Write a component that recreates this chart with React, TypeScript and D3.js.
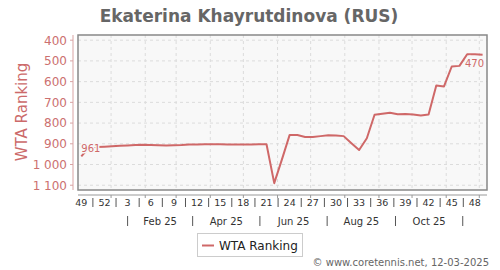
import React from "react";
import * as d3 from "d3";

const title = "Ekaterina Khayrutdinova (RUS)";
const seriesName = "WTA Ranking";
const firstWeekDate = Date.UTC(2024, 11, 5); // Thursday of ISO week 49, 2024
const rankings = [
  961, 918, 916, 914, 912, 910, 908, 906, 905, 906, 907, 908, 907, 906, 904, 903,
  902, 902, 902, 903, 903, 904, 903, 902, 902, 1090, 975, 857, 858, 867, 867, 863,
  859, 860, 863, 897, 930, 873, 760, 755, 750, 757, 756, 759, 763, 759, 619, 623,
  527, 524, 468, 468, 470,
];
const weekLabels = ["49", "52", "3", "6", "9", "12", "15", "18", "21", "24", "27", "30", "33", "36", "39", "42", "45", "48"];
const monthLabels = ["Feb 25", "Apr 25", "Jun 25", "Aug 25", "Oct 25"];
const yTicks = [400, 500, 600, 700, 800, 900, 1000, 1100];
const copyright = "© www.coretennis.net, 12-03-2025";

const W = 500, H = 270;
const left = 78, right = 487, top = 35, bottom = 190;
const lineColor = "#cf6868";
const font = "DejaVu Sans, sans-serif";

const DAY = 86400000;
const fmt = d3.formatLocale({ decimal: ".", thousands: " ", grouping: [3], currency: ["", ""] }).format(",d");

export default function App() {
  const x = d3.scaleUtc().domain([new Date(Date.UTC(2024, 11, 2)), new Date(Date.UTC(2025, 11, 8))]).range([left, right]);
  const y = d3.scaleLinear().domain([375, 1123]).range([top, bottom]);
  const pts = rankings.map((v, i) => ({ d: new Date(firstWeekDate + i * 7 * DAY), v }));
  const line = d3.line<{ d: Date; v: number }>().x(p => x(p.d)).y(p => y(p.v));
  const monthStarts = d3.utcMonth.range(new Date(Date.UTC(2024, 11, 15)), new Date(Date.UTC(2025, 11, 8)));
  const weekPos = weekLabels.map((_, k) => x(new Date(firstWeekDate + k * 21 * DAY)));
  const sepMonths = [0, 2, 4, 6, 8, 10].map(m => x(new Date(Date.UTC(2025, m, 16))));
  const first = pts[0], last = pts[pts.length - 1];
  const axisY = 195;

  return (
    <svg width={W} height={H} style={{ position: "absolute", left: 0, top: 0, background: "#fff" }} fontFamily={font}>
      <text x={249} y={22} textAnchor="middle" fontSize={17} fontWeight="bold" fill="#666">{title}</text>
      <rect x={left} y={top} width={right - left} height={bottom - top} fill="#f8f8f8" />
      {yTicks.map(t => (
        <line key={"gy" + t} x1={left} x2={right} y1={y(t)} y2={y(t)} stroke="#dcdcdc" strokeDasharray="3,3" />
      ))}
      {monthStarts.map(m => (
        <line key={"gx" + m.getTime()} x1={x(m)} x2={x(m)} y1={top} y2={bottom} stroke="#dcdcdc" strokeDasharray="3,3" />
      ))}
      <path d={line(pts) || ""} fill="none" stroke={lineColor} strokeWidth={2} strokeLinejoin="round" />
      <text x={x(first.d)} y={y(first.v) - 4.5} fontSize={10} fill={lineColor} stroke="#f8f8f8" strokeWidth={3} paintOrder="stroke">{fmt(first.v)}</text>
      <text x={x(last.d) + 1.5} y={y(last.v) + 12.5} textAnchor="end" fontSize={10} fill={lineColor} stroke="#f8f8f8" strokeWidth={3} paintOrder="stroke">{fmt(last.v)}</text>
      <rect x={left} y={top} width={right - left} height={bottom - top} fill="none" stroke="#888" strokeWidth={1.5} />
      {/* y axis */}
      <line x1={73} x2={73} y1={top} y2={bottom} stroke="#d9a3a3" />
      {yTicks.map(t => (
        <g key={"yt" + t}>
          <line x1={70} x2={73} y1={y(t)} y2={y(t)} stroke="#d9a3a3" />
          <text x={67} y={y(t)} dy="0.36em" textAnchor="end" fontSize={12} fill="#cc7070">{fmt(t)}</text>
        </g>
      ))}
      <text transform={`translate(26.5,112) rotate(-90)`} textAnchor="middle" fontSize={15} fill="#cc6a6a">{seriesName}</text>
      {/* x axis */}
      <line x1={left} x2={right} y1={axisY} y2={axisY} stroke="#999" />
      {monthStarts.map(m => (
        <line key={"xt" + m.getTime()} x1={x(m)} x2={x(m)} y1={axisY} y2={axisY + 3} stroke="#999" />
      ))}
      {weekLabels.map((l, k) => (
        <text key={"wl" + k} x={weekPos[k]} y={205.5} textAnchor="middle" fontSize={9.5} fill="#333">{l}</text>
      ))}
      {weekPos.slice(1).map((p, k) => (
        <line key={"ws" + k} x1={(p + weekPos[k]) / 2} x2={(p + weekPos[k]) / 2} y1={198} y2={207} stroke="#555" />
      ))}
      {sepMonths.map((p, k) => (
        <line key={"ms" + k} x1={p} x2={p} y1={216} y2={226} stroke="#555" />
      ))}
      {monthLabels.map((l, k) => (
        <text key={"ml" + k} x={(sepMonths[k] + sepMonths[k + 1]) / 2} y={224.5} textAnchor="middle" fontSize={10} fill="#333">{l}</text>
      ))}
      {/* legend */}
      <rect x={197.5} y={233.5} width={105} height={23} fill="#fff" stroke="#ccc" />
      <line x1={202} x2={214} y1={245.5} y2={245.5} stroke={lineColor} strokeWidth={2} />
      <text x={219} y={250} fontSize={12} fill="#222">{seriesName}</text>
      <text x={489} y={266} textAnchor="end" fontSize={10} fill="#666">{copyright}</text>
    </svg>
  );
}
